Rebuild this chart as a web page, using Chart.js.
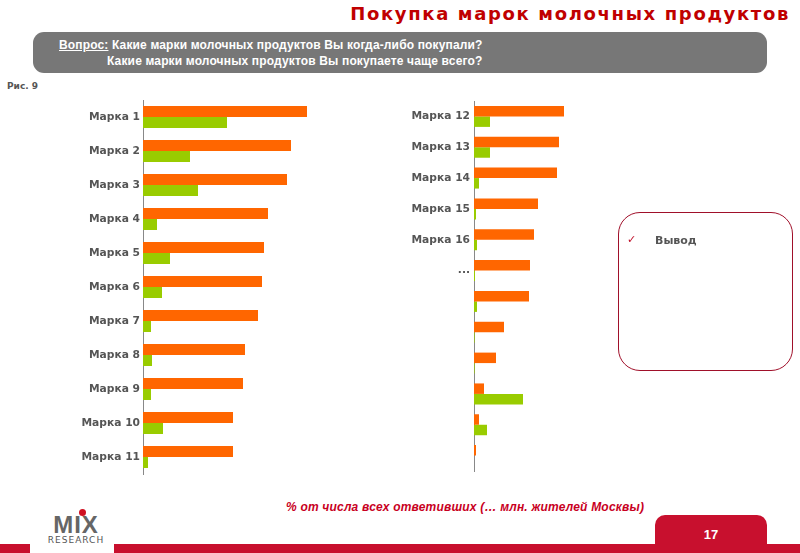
<!DOCTYPE html>
<html lang="ru">
<head>
<meta charset="utf-8">
<script src="https://cdn.jsdelivr.net/npm/chart.js@4/dist/chart.umd.min.js"></script>
<style>
  html, body { margin: 0; padding: 0; background: #fff; }
  body { width: 800px; height: 553px; position: relative; overflow: hidden; font-family: "DejaVu Sans", sans-serif; }
  .titulo { position: absolute; right: 10px; top: 3px; font-size: 18px; font-weight: bold; color: #c00000; letter-spacing: 1.65px; white-space: nowrap; }
  .pergunta { position: absolute; left: 33px; top: 32px; width: 734px; height: 41px; background: #777; border-radius: 11px; color: #fff;
    font-family: "Liberation Sans", Arial, sans-serif; font-size: 12px; font-weight: bold; letter-spacing: 0.15px; }
  .pergunta .l1 { position: absolute; left: 26px; top: 6px; white-space: nowrap; }
  .pergunta .l2 { position: absolute; left: 74px; top: 22px; white-space: nowrap; }
  .pergunta u { text-decoration: underline; }
  .ris { position: absolute; left: 7px; top: 81px; font-size: 9px; font-weight: bold; color: #555; }
  .graf { position: absolute; }
  .caixa { position: absolute; left: 618px; top: 212px; width: 173px; height: 157px; border: 1px solid #a0102a; border-radius: 22px; }
  .caixa .check { position: absolute; left: 8px; top: 20px; color: #c0102a; font-size: 11px; }
  .caixa .txt { position: absolute; left: 36px; top: 21px; font-size: 11px; font-weight: bold; color: #555; }
  .nota { position: absolute; left: 286px; top: 500px; font-family: "Liberation Sans", Arial, sans-serif; font-style: italic; font-weight: bold; font-size: 12px; color: #c8001e; white-space: nowrap; letter-spacing: 0.2px; }
  .faixa { position: absolute; left: 0; top: 544px; width: 800px; height: 9px; background: #c8102e; }
  .logo-bg { position: absolute; left: 30px; top: 540px; width: 84px; height: 13px; background: #fff; }
  .aba { position: absolute; left: 655px; top: 515px; width: 112px; height: 38px; background: #c8102e; border-radius: 10px 10px 0 0; }
  .aba span { position: absolute; left: 0; right: 0; top: 12px; text-align: center; color: #fff; font-family: "Liberation Sans", Arial, sans-serif; font-weight: bold; font-size: 13px; }
  .logo { position: absolute; left: 38px; top: 514px; width: 76px; text-align: center; }
  .logo .mix { font-family: "Liberation Sans", Arial, sans-serif; font-weight: bold; font-size: 24px; color: #666; line-height: 21px; letter-spacing: 1px; }
  .logo .res { font-family: "DejaVu Sans", sans-serif; font-size: 9px; color: #555; letter-spacing: 1px; line-height: 10px; }
  .logo .ponto { position: absolute; left: 41px; top: -5px; width: 7px; height: 7px; border-radius: 4px; background: #d01020; }
</style>
</head>
<body>
<div class="titulo">Покупка марок молочных продуктов</div>
<div class="pergunta">
  <div class="l1"><u>Вопрос:</u> Какие марки молочных продуктов Вы когда-либо покупали?</div>
  <div class="l2">Какие марки молочных продуктов Вы покупаете чаще всего?</div>
</div>
<div class="ris">Рис. 9</div>

<canvas id="grafEsq" class="graf" style="left:0px; top:90px;" width="343" height="394"></canvas>
<canvas id="grafDir" class="graf" style="left:400px; top:90px;" width="274" height="392"></canvas>

<div class="caixa"><span class="check">✓</span><span class="txt">Вывод</span></div>

<div class="nota">% от числа всех ответивших (… млн. жителей Москвы)</div>
<div class="faixa"></div>
<div class="logo-bg"></div>
<div class="logo"><span class="ponto"></span><div class="mix">MIX</div><div class="res">RESEARCH</div></div>
<div class="aba"><span>17</span></div>

<script>
// Dados (% ; escala 0-100)
const marcasEsq = ['Марка 1', 'Марка 2', 'Марка 3', 'Марка 4', 'Марка 5', 'Марка 6', 'Марка 7', 'Марка 8', 'Марка 9', 'Марка 10', 'Марка 11'];
const jaCompraramEsq = [82, 74, 72, 62.5, 60.5, 59.5, 57.5, 51, 50, 45, 45];
const compramMaisEsq = [42, 23.5, 27.5, 7, 13.5, 9.5, 4, 4.5, 4, 10, 2.5];

const marcasDir = ['Марка 12', 'Марка 13', 'Марка 14', 'Марка 15', 'Марка 16', '...', '', '', '', '', '', ''];
const jaCompraramDir = [45, 42.5, 41.5, 32, 30, 28, 27.5, 15, 11, 5, 2.5, 1];
const compramMaisDir = [8, 8, 2.5, 1, 1.5, 0.5, 1.5, 0.3, 0.3, 24.5, 6.5, 0];

const corLaranja = '#ff6600';
const corVerde = '#99cc00';

function criarGrafico(id, labels, serie1, serie2, larguraEixo, padding, catPct) {
    const ctx = document.getElementById(id).getContext('2d');
    return new Chart(ctx, {
        type: 'bar',
        data: {
            labels: labels,
            datasets: [
                { label: 'Когда-либо покупали', data: serie1, backgroundColor: corLaranja },
                { label: 'Покупают чаще всего', data: serie2, backgroundColor: corVerde }
            ]
        },
        options: {
            indexAxis: 'y',
            responsive: false,
            animation: false,
            events: [],
            layout: { padding: 0 },
            datasets: { bar: { barPercentage: 1, categoryPercentage: catPct, borderWidth: 0 } },
            plugins: { legend: { display: false }, tooltip: { enabled: false } },
            scales: {
                x: { display: false, min: 0, max: 100 },
                y: {
                    grid: { display: false, drawTicks: false },
                    border: { display: true, color: '#888', width: 1 },
                    ticks: {
                        color: '#555',
                        padding: padding,
                        autoSkip: false,
                        font: { family: 'DejaVu Sans', size: 10.7, weight: 'bold', lineHeight: '14px' }
                    },
                    afterFit: (scale) => { scale.width = larguraEixo; }
                }
            }
        }
    });
}

criarGrafico('grafEsq', marcasEsq, jaCompraramEsq, compramMaisEsq, 143, 3, 0.647);
criarGrafico('grafDir', marcasDir, jaCompraramDir, compramMaisDir, 74, 4, 0.68);
</script>
</body>
</html>
